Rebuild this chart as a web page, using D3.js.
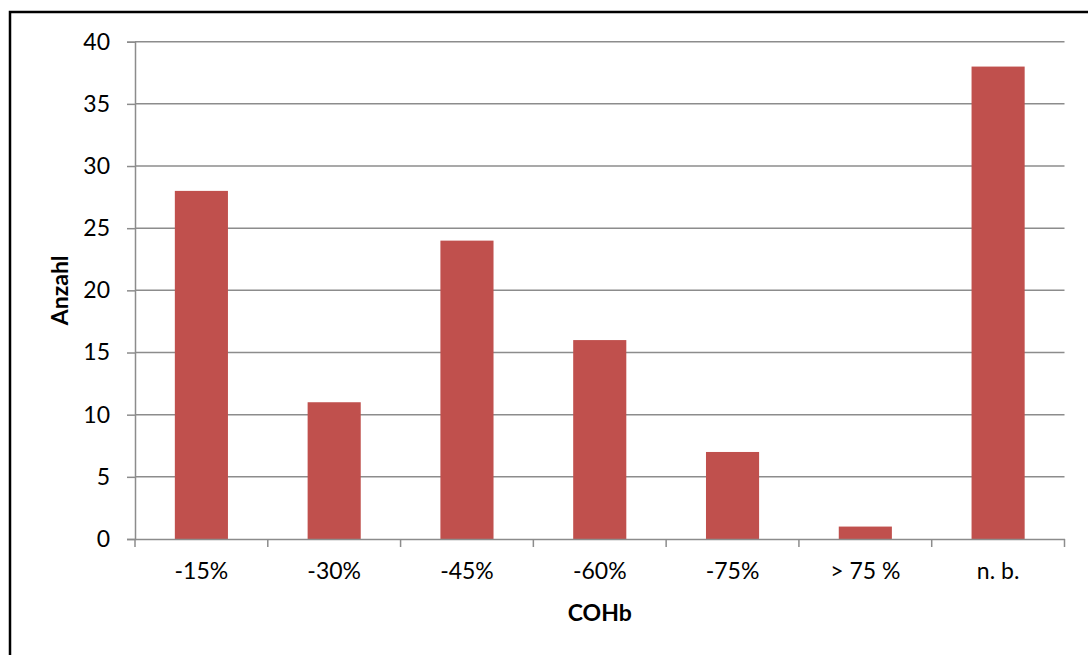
<!DOCTYPE html>
<html>
<head>
<meta charset="utf-8">
<script src="https://cdn.jsdelivr.net/npm/d3@7"></script>
<style>
  html, body { margin: 0; padding: 0; background: #fff; overflow: hidden; }
  svg { display: block; }
  text { font-family: Lato, "Open Sans", sans-serif; fill: #000; }
</style>
</head>
<body>
<svg id="chart" width="1088" height="655"></svg>
<script>
const categories = ["-15%", "-30%", "-45%", "-60%", "-75%", "> 75 %", "n. b."];
const values = [28, 11, 24, 16, 7, 1, 38];
const yTicks = [0, 5, 10, 15, 20, 25, 30, 35, 40];
const xTitle = "COHb";
const yTitle = "Anzahl";

const svg = d3.select("#chart");
const pLeft = 135, pRight = 1064.5, pTop = 41.7, pBottom = 539;
const fs = 23;

// outer frame
svg.append("rect")
  .attr("x", 10).attr("y", 12)
  .attr("width", 1200).attr("height", 800)
  .attr("fill", "none").attr("stroke", "#000").attr("stroke-width", 2.5);

const x = d3.scaleBand().domain(categories).range([pLeft, pRight]).paddingInner(0.6).paddingOuter(0.3);
const xb = d3.scaleBand().domain(categories).range([pLeft, pRight]);
const y = d3.scaleLinear().domain([0, 40]).range([pBottom, pTop]);

// gridlines
svg.append("g").selectAll("line").data(yTicks.filter(d => d > 0)).join("line")
  .attr("x1", pLeft).attr("x2", pRight)
  .attr("y1", d => y(d)).attr("y2", d => y(d))
  .attr("stroke", "#8c8c8c").attr("stroke-width", 1.5);

// bars
svg.append("g").selectAll("rect").data(values).join("rect")
  .attr("x", (d, i) => x(categories[i]))
  .attr("width", x.bandwidth())
  .attr("y", d => y(d))
  .attr("height", d => y(0) - y(d))
  .attr("fill", "#C0504D");

// y axis
const yAxis = d3.axisLeft(y).tickValues(yTicks).tickSize(8).tickPadding(17).tickFormat(d3.format("d"));
const gy = svg.append("g").attr("transform", `translate(${pLeft},0)`).call(yAxis);
gy.select(".domain").attr("stroke", "#8c8c8c").attr("stroke-width", 1.5);
gy.selectAll(".tick line").attr("stroke", "#8c8c8c").attr("stroke-width", 1.5);
gy.selectAll(".tick text").attr("font-size", fs).attr("font-family", "Lato, 'Open Sans', sans-serif").attr("fill", "#000");

// x axis
const xAxis = d3.axisBottom(xb).tickSize(0).tickPadding(24);
const gx = svg.append("g").attr("transform", `translate(0,${pBottom})`).call(xAxis);
gx.select(".domain").attr("stroke", "#8c8c8c").attr("stroke-width", 1.5);
gx.selectAll(".tick text").attr("font-size", fs).attr("font-family", "Lato, 'Open Sans', sans-serif").attr("fill", "#000");
// boundary tick marks
const bounds = categories.map(c => xb(c)).concat([pRight]);
svg.append("g").selectAll("line").data(bounds).join("line")
  .attr("x1", d => d).attr("x2", d => d)
  .attr("y1", pBottom).attr("y2", pBottom + 8)
  .attr("stroke", "#8c8c8c").attr("stroke-width", 1.5);

// titles
svg.append("text")
  .attr("x", (pLeft + pRight) / 2).attr("y", 621)
  .attr("text-anchor", "middle").attr("font-size", fs).attr("font-weight", "bold")
  .text(xTitle);
svg.append("text")
  .attr("transform", `translate(68,${(pTop + pBottom) / 2}) rotate(-90)`)
  .attr("text-anchor", "middle").attr("font-size", fs).attr("font-weight", "bold")
  .text(yTitle);
</script>
</body>
</html>
